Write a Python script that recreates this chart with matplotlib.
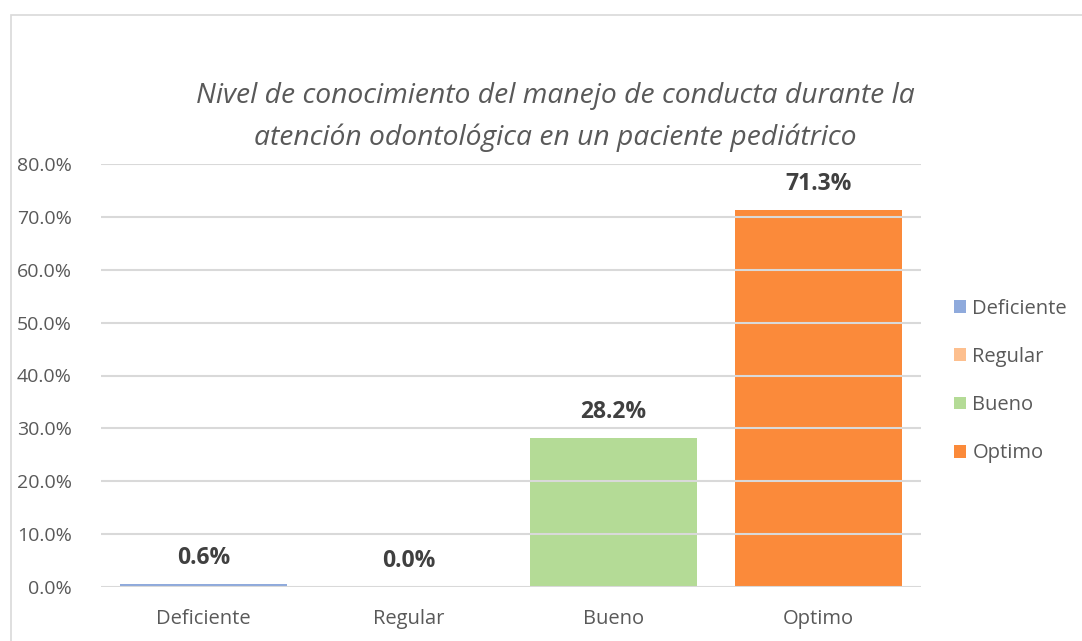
import matplotlib
matplotlib.use("Agg")
import matplotlib.pyplot as plt
from matplotlib.patches import Rectangle, Patch

categories = ["Deficiente", "Regular", "Bueno", "Optimo"]
values = [0.6, 0.0, 28.2, 71.3]
labels = ["0.6%", "0.0%", "28.2%", "71.3%"]
colors = ["#8FAADC", "#FDBF8E", "#B4DB96", "#FB8A3A"]
yticks = [0, 10, 20, 30, 40, 50, 60, 70, 80]
title = "Nivel de conocimiento del manejo de conducta durante la\natención odontológica en un paciente pediátrico"

plt.rcParams['font.family'] = ['Open Sans', 'DejaVu Sans']

fig = plt.figure(figsize=(10.82, 6.41), dpi=100)
fig.patches.append(Rectangle((11/1082, -0.01), 1.1, 1 - 15/641 + 0.01,
                             transform=fig.transFigure, fill=False,
                             edgecolor="#D9D9D9", linewidth=1.2, zorder=0))

ax = fig.add_axes([101/1082, 1 - 587/641, (921 - 101)/1082, (587 - 164)/641])
x = list(range(len(categories)))
bars = ax.bar(x, values, width=0.81, color=colors, zorder=1)
ax.set_xlim(-0.5, 3.5)
ax.set_ylim(0, 80)
ax.set_yticks(yticks)
ax.set_yticklabels([f"{v:.1f}%" for v in yticks])
ax.set_xticks(x)
ax.set_xticklabels(categories)
ax.tick_params(length=0, labelsize=14.5, colors="#595959")
ax.tick_params(axis='x', pad=16)
ax.tick_params(axis='y', labelsize=14, pad=21)
for s in ax.spines.values():
    s.set_visible(False)
ax.yaxis.grid(True, color="#D9D9D9", linewidth=1.5, zorder=3)
ax.set_axisbelow(False)

for xi, v, lab in zip(x, values, labels):
    ax.annotate(lab, (xi, v), xytext=(0, 10), textcoords="offset points",
                ha="center", va="bottom", fontsize=16.5, fontweight="bold",
                color="#404040")

fig.text(555/1082, 1 - 117/641, title, ha="center", va="center",
         fontsize=20.3, style="italic", color="#595959", linespacing=1.6)

handles = [Patch(facecolor=c, edgecolor='none') for c in colors]
leg = fig.legend(handles, categories, loc="center left",
                 bbox_to_anchor=(936/1082, 1 - 381/641), frameon=False,
                 fontsize=14.5, labelspacing=1.4, handlelength=0.6,
                 handleheight=0.6, handletextpad=0.3, labelcolor="#595959")

fig.savefig("out.png", dpi=100)
